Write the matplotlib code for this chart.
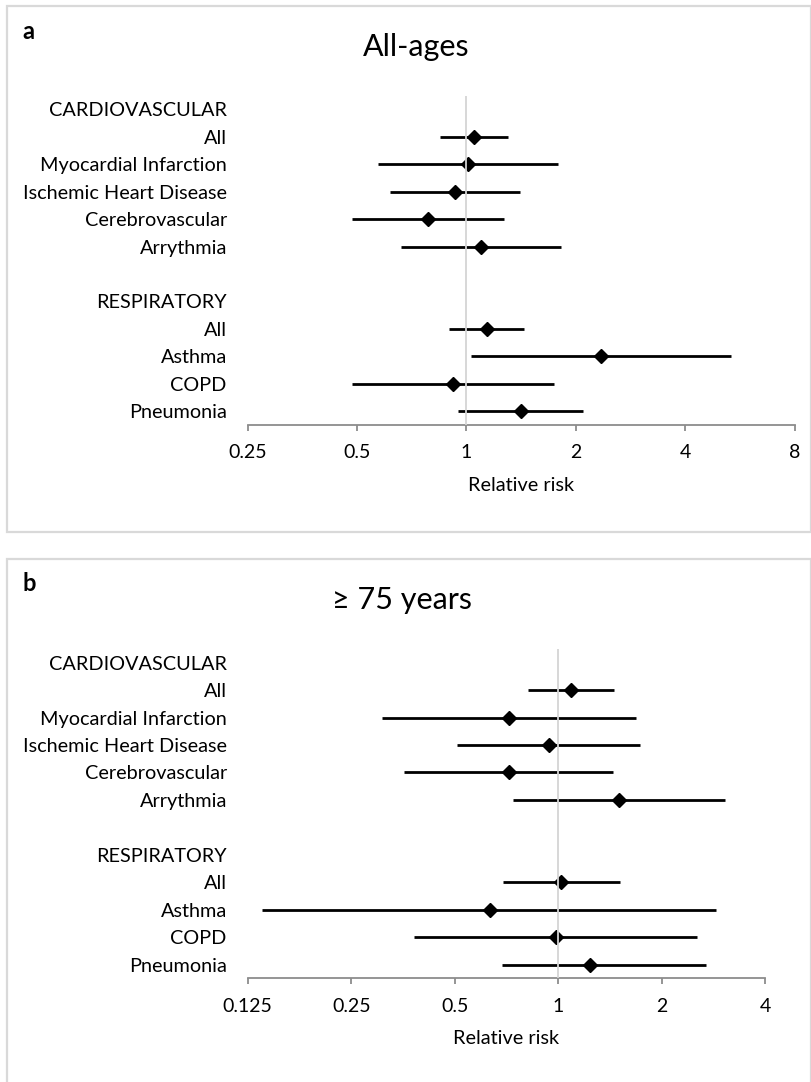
import numpy as np
import matplotlib
matplotlib.use("Agg")
import matplotlib.pyplot as plt
from matplotlib.patches import Rectangle

plt.rcParams['font.family'] = ['Lato', 'DejaVu Sans']

# row labels (blank row separates the two groups)
row_labels = ["CARDIOVASCULAR", "All", "Myocardial Infarction", "Ischemic Heart Disease",
              "Cerebrovascular", "Arrythmia", "", "RESPIRATORY", "All", "Asthma", "COPD",
              "Pneumonia"]
data_rows = [1, 2, 3, 4, 5, 8, 9, 10, 11]

# panel a: all ages
rr_all = [1.05, 1.01, 0.93, 0.785, 1.10, 1.14, 2.35, 0.92, 1.41]
lo_all = [0.845, 0.57, 0.618, 0.484, 0.661, 0.898, 1.03, 0.483, 0.947]
hi_all = [1.30, 1.79, 1.40, 1.27, 1.82, 1.44, 5.35, 1.74, 2.09]

# panel b: >= 75 years
rr_75 = [1.09, 0.72, 0.94, 0.717, 1.50, 1.02, 0.633, 0.983, 1.24]
lo_75 = [0.815, 0.308, 0.508, 0.356, 0.737, 0.689, 0.138, 0.381, 0.684]
hi_75 = [1.455, 1.68, 1.73, 1.44, 3.05, 1.51, 2.88, 2.54, 2.69]

ticks_a = [0.25, 0.5, 1, 2, 4, 8]
ticks_b = [0.125, 0.25, 0.5, 1, 2, 4]

W, H = 812, 1082
fig = plt.figure(figsize=(W / 100, H / 100), dpi=100)


def px(x0, y0, x1, y1):
    # pixel box -> figure fraction [left, bottom, width, height]
    return [x0 / W, 1 - y1 / H, (x1 - x0) / W, (y1 - y0) / H]


def draw_panel(rect, rr, lo, hi, ticks, title, title_xy, letter, letter_xy):
    ax = fig.add_axes(rect)
    rr = np.array(rr)
    lo = np.array(lo)
    hi = np.array(hi)
    ax.hlines(data_rows, lo, hi, color="black", lw=2.0, zorder=2)
    ax.plot(rr, data_rows, ls="none", marker="D", ms=6.8, color="black", zorder=3)
    ax.axvline(1, color="#d4d4d4", lw=1.3, zorder=5)

    ax.set_xscale("log", base=2)
    ax.set_xlim(ticks[0], ticks[-1])
    ax.set_ylim(len(row_labels) - 0.5, -0.5)
    ax.set_xticks(ticks)
    ax.set_xticklabels([f"{t:g}" for t in ticks])
    ax.minorticks_off()
    ax.set_yticks(range(len(row_labels)))
    ax.set_yticklabels(row_labels)

    for s in ["top", "right", "left"]:
        ax.spines[s].set_visible(False)
    ax.spines["bottom"].set_color("#8c8c8c")
    ax.spines["bottom"].set_linewidth(1.3)
    ax.tick_params(axis="x", direction="out", length=4, width=1.3, color="#8c8c8c",
                   pad=10, labelsize=14)
    ax.tick_params(axis="y", length=0, pad=15, labelsize=14.3)
    ax.set_xlabel("Relative risk", fontsize=14.3, labelpad=11)
    ax.patch.set_visible(False)

    fig.text(title_xy[0] / W, 1 - title_xy[1] / H, title, fontsize=22,
             ha="center", va="baseline")
    fig.text(letter_xy[0] / W, 1 - letter_xy[1] / H, letter, fontsize=17,
             fontweight="bold", ha="left", va="baseline")
    return ax


# panel frames
for y0, y1 in [(6, 532), (559, 1090)]:
    fig.patches.append(Rectangle((7 / W, 1 - y1 / H), (811 - 7) / W, (y1 - y0) / H,
                                 transform=fig.transFigure, fill=False,
                                 edgecolor="#d9d9d9", lw=1.6))

draw_panel(px(247.7, 95.6, 794.5, 425), rr_all, lo_all, hi_all, ticks_a,
           "All-ages", (416.5, 56), "a", (22, 39))
draw_panel(px(247.7, 649, 765.3, 978.3), rr_75, lo_75, hi_75, ticks_b,
           "\u2265 75 years", (402, 609), "b", (22, 591))

fig.savefig("out.png", dpi=100)
